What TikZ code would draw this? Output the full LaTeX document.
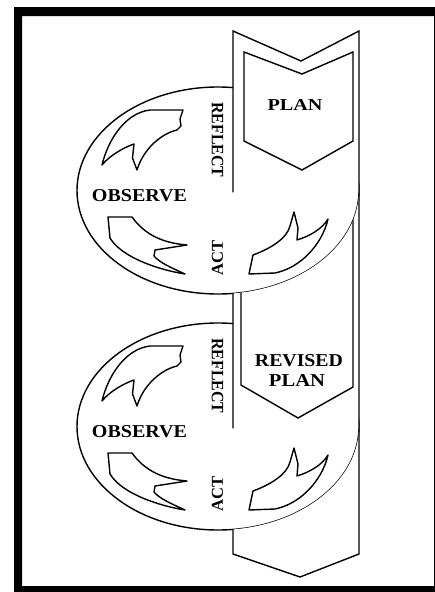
\documentclass[tikz,border=0pt]{standalone}
\usepackage{graphicx}
\usepackage{fontspec}
\setmainfont{Liberation Serif}
\begin{document}
\begin{tikzpicture}[x=1pt,y=-1pt, line width=1.4pt, line join=round,
  lbl/.style={inner sep=0pt, outer sep=0pt},
  ring/.style={draw=black, fill=white},
  cycleshape/.style={draw=black, fill=white, line join=miter}]
\useasboundingbox (0,0) rectangle (435,592);
\clip (0,0) rectangle (435,592);
\fill[white] (0,0) rectangle (435,592);

% the two rings (ellipses)
\draw[ring] (218,190.5) ellipse [x radius=141pt, y radius=103.5pt];
\draw[ring] (218,426.5) ellipse [x radius=141pt, y radius=103.5pt];

% the plan column, passing in front of the upper halves of the rings
\begin{scope}[even odd rule]
  \clip (0,0) rectangle (435,592)
    (218,190.5) ++(181:141pt and 103.5pt) arc[start angle=181, end angle=359, x radius=141pt, y radius=103.5pt] -- cycle
    (218,426.5) ++(181:141pt and 103.5pt) arc[start angle=181, end angle=359, x radius=141pt, y radius=103.5pt] -- cycle;
  \draw[cycleshape] (233,31) -- (301,61) -- (359,31) -- (359,554) -- (300,577) -- (233,554) -- cycle;
  \draw[line join=miter] (244,52) -- (302,74) -- (353,52) -- (353,141) -- (302,170) -- (244,141) -- cycle;
  \draw[line join=miter] (241,205) -- (297,225) -- (353,205) -- (353,387) -- (298,418) -- (241,385) -- cycle;
  \node[lbl] (plan) at (295,105) {\resizebox{55pt}{11pt}{\bfseries PLAN}};
  \node[lbl] (rev) at (299,361) {\resizebox{88pt}{12pt}{\bfseries REVISED}};
  \node[lbl] (revplan) at (297,380) {\resizebox{56pt}{12pt}{\bfseries PLAN}};
\end{scope}

% curved arrows inside both rings
\foreach \dy in {0,236} {
\begin{scope}[shift={(0,\dy)}]
  % upper left (reflect -> observe)
  \draw (183,110) -- (180,119) -- (181,126) -- (177,130)
     .. controls (160,134) and (143,150) .. (137,170)
     -- (132.5,158) -- (134,144)
     .. controls (125,147) and (110,155) .. (102,165)
     .. controls (108,140) and (125,113) .. (150,110) -- cycle;
  % lower left (observe -> act)
  \draw (108,217) -- (132,217)
     .. controls (145,235) and (163,243) .. (187,245)
     -- (155,250) -- (154,256)
     .. controls (160,263) and (172,268) .. (185,274)
     .. controls (160,270) and (122,258) .. (110,238) -- cycle;
  % lower right (act -> plan)
  \draw (249,274) -- (253,255)
     .. controls (272,248) and (287,238) .. (290,226)
     -- (294,212) -- (298,228) -- (297,240)
     .. controls (310,236) and (322,229) .. (328,219)
     .. controls (322,245) and (300,268) .. (275,273) -- cycle;
\end{scope}
}

% labels of the rings
\node[lbl] (obs1) at (139.5,195.5) {\resizebox{95pt}{12pt}{\bfseries OBSERVE}};
\node[lbl] (obs2) at (139.5,431.5) {\resizebox{95pt}{12pt}{\bfseries OBSERVE}};
\node[lbl, rotate=-90] (ref1) at (217.5,140) {\resizebox{75pt}{11.5pt}{\bfseries REFLECT}};
\node[lbl, rotate=-90] (ref2) at (217.5,376) {\resizebox{75pt}{11.5pt}{\bfseries REFLECT}};
\node[lbl, rotate=90] (act1) at (217.5,257.5) {\resizebox{35pt}{11pt}{\bfseries ACT}};
\node[lbl, rotate=90] (act2) at (217.5,493.5) {\resizebox{35pt}{11pt}{\bfseries ACT}};

% heavy frame
\fill[black, even odd rule] (14,7) rectangle (445,600) (22,16) rectangle (434,586);
\end{tikzpicture}
\end{document}
